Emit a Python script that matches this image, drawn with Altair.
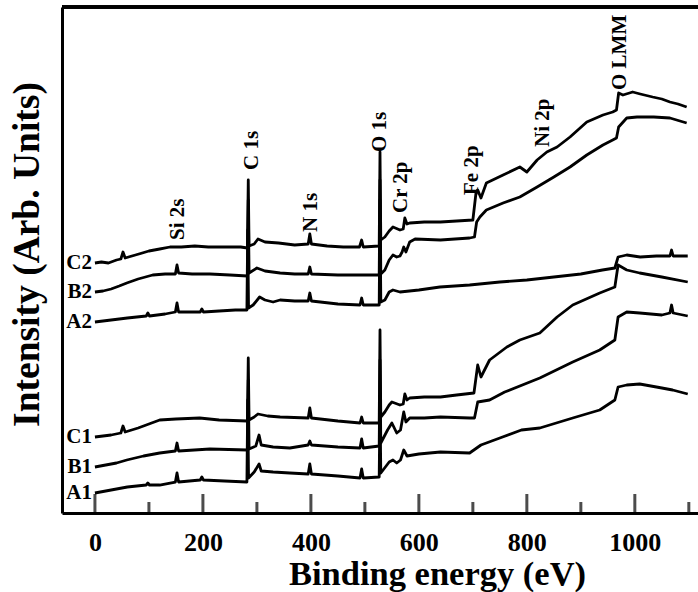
import altair as alt
import pandas as pd

# XPS survey spectra of six samples, stacked with vertical offsets (arbitrary units)
A1_energy = [0, 30, 60, 95, 98, 101, 120, 149, 152, 155, 195, 198, 201, 240, 281.5, 283, 284.5, 295, 304, 308,
             330, 361, 395, 398, 401, 450, 491, 494, 497, 526.5, 528, 529.5, 545, 552, 559, 566, 572, 578, 600, 640,
             694, 715, 750, 790, 824, 885, 935, 963, 969, 985, 1009, 1040, 1070, 1098]
A1_counts = [20, 23, 26, 28, 30, 28, 28, 31, 40, 31, 33, 36, 33, 32, 31, 113, 35, 41, 49, 42,
             41, 40, 39, 49, 39, 37, 35, 44, 35, 36, 113, 40, 51, 53, 50, 53, 63, 57, 59, 61,
             60, 68, 75, 83, 85, 95, 103, 113, 126, 128, 129, 126, 123, 119]

B1_energy = [0, 20, 40, 59, 90, 120, 149, 152, 155, 213, 282.5, 284, 285.5, 298, 304, 308, 330, 361, 395, 398,
             401, 450, 491, 494, 497, 526.5, 528, 529.5, 542, 550, 559, 566, 572, 576, 583, 610, 640, 694, 703, 709,
             731, 759, 824, 885, 935, 963, 969, 985, 1009, 1050, 1065, 1068, 1071, 1098]
B1_counts = [46, 48, 50, 53, 57, 60, 62, 70, 62, 64, 63, 133, 64, 67, 78, 68, 66, 65, 68, 72,
             68, 66, 65, 74, 65, 67, 153, 70, 83, 90, 80, 83, 101, 91, 95, 95, 96, 95, 95, 111,
             113, 121, 135, 151, 163, 173, 196, 201, 200, 198, 200, 208, 200, 197]

C1_energy = [0, 15, 30, 48, 52, 56, 80, 100, 120, 150, 194, 230, 282.5, 284, 285.5, 295, 302, 320, 343, 395,
             398, 401, 450, 491, 494, 497, 526.5, 528, 529.5, 537, 545, 550, 565, 571, 574, 578, 583, 610, 640, 670,
             702, 709, 715, 731, 763, 787, 824, 856, 885, 935, 963, 969, 985, 1009, 1050, 1098]
C1_counts = [76, 77, 78, 80, 87, 81, 85, 89, 93, 94, 95, 93, 92, 155, 93, 96, 99, 97, 96, 95,
             105, 95, 92, 90, 96, 90, 90, 183, 96, 101, 108, 111, 108, 109, 119, 113, 115, 116, 116, 118,
             120, 148, 136, 153, 166, 173, 180, 196, 208, 220, 226, 248, 243, 240, 236, 231]

A2_energy = [0, 30, 60, 95, 98, 101, 130, 149, 152, 155, 190, 195, 198, 201, 230, 260, 281.5, 283, 284.5, 293,
             305, 315, 330, 343, 370, 395, 398, 401, 450, 491, 494, 497, 526.5, 528, 529.5, 537, 545, 552, 565, 600,
             639, 694, 750, 800, 850, 900, 940, 963, 969, 985, 1010, 1040, 1065, 1068, 1071, 1098]
A2_counts = [191, 193, 195, 197, 200, 197, 199, 201, 210, 201, 201, 201, 204, 201, 202, 203, 203, 283, 205, 208,
             216, 213, 211, 213, 212, 212, 220, 212, 209, 208, 215, 208, 208, 313, 211, 213, 221, 223, 221, 223,
             226, 228, 231, 233, 236, 239, 243, 245, 256, 258, 256, 257, 257, 263, 257, 257]

B2_energy = [0, 15, 30, 45, 59, 80, 107, 130, 149, 152, 155, 180, 213, 250, 282.5, 284, 285.5, 300, 315, 343,
             370, 395, 398, 401, 450, 491, 526.5, 528, 529.5, 537, 545, 552, 559, 565, 569, 572, 576, 583, 593, 640,
             694, 703, 707, 713, 725, 756, 787, 819, 850, 880, 911, 941, 959, 966, 970, 985, 1004, 1035, 1065, 1096]
B2_counts = [221, 222, 224, 227, 230, 234, 238, 239, 239, 248, 240, 239, 239, 238, 237, 313, 240, 245, 242, 240,
             239, 239, 246, 239, 238, 238, 238, 333, 239, 243, 253, 258, 256, 257, 261, 266, 261, 271, 274, 273,
             275, 276, 291, 296, 303, 310, 316, 326, 336, 346, 358, 368, 373, 375, 386, 395, 396, 396, 395, 390]

C2_energy = [0, 12, 25, 40, 48, 52, 56, 75, 100, 120, 139, 160, 185, 210, 240, 270, 282.5, 284, 285.5, 295,
             302, 315, 340, 370, 395, 398, 401, 430, 460, 490, 494, 497, 526.5, 528, 529.5, 537, 545, 552, 565, 571,
             574, 578, 583, 610, 640, 670, 700, 706, 709, 715, 725, 756, 787, 800, 819, 837, 856, 880, 911, 941,
             959, 966, 970, 978, 996, 1010, 1033, 1050, 1065, 1080, 1096]
C2_counts = [250, 251, 250, 253, 254, 261, 255, 258, 262, 264, 266, 266, 267, 266, 266, 266, 265, 333, 267, 269,
             274, 271, 270, 268, 269, 279, 269, 267, 266, 266, 273, 266, 267, 361, 273, 276, 282, 286, 283, 284,
             295, 289, 290, 291, 291, 292, 293, 321, 323, 315, 330, 338, 346, 341, 353, 361, 366, 376, 391, 398,
             401, 403, 420, 418, 421, 419, 416, 414, 411, 409, 406]

sample_names = ["A1", "B1", "C1", "A2", "B2", "C2"]

peak_labels = ["Si 2s", "C 1s", "N 1s", "O 1s", "Cr 2p", "Fe 2p", "Ni 2p", "O LMM"]
peak_label_energy = [153, 290, 401, 528, 567, 698, 829, 972]
peak_label_level = [273, 343, 281, 361, 300, 318, 366, 423]

major_ticks = [0, 200, 400, 600, 800, 1000]
minor_ticks = [100, 300, 500, 700, 900, 1100]

FONT = "Liberation Serif"
W, H = 636, 506

series = {
    "A1": (A1_energy, A1_counts), "B1": (B1_energy, B1_counts), "C1": (C1_energy, C1_counts),
    "A2": (A2_energy, A2_counts), "B2": (B2_energy, B2_counts), "C2": (C2_energy, C2_counts),
}
rows = []
for name in sample_names:
    e, c = series[name]
    rows += [{"sample": name, "energy": x, "intensity": y} for x, y in zip(e, c)]
spectra = pd.DataFrame(rows)

starts = pd.DataFrame({
    "sample": sample_names,
    "energy": [series[n][0][0] for n in sample_names],
    "intensity": [series[n][1][0] for n in sample_names],
})
peaks = pd.DataFrame({"label": peak_labels, "energy": peak_label_energy, "intensity": peak_label_level})
majors = pd.DataFrame({"energy": major_ticks})
minors = pd.DataFrame({"energy": minor_ticks})

xs = alt.Scale(domain=[-61, 1117], nice=False, zero=False)
ys = alt.Scale(domain=[0, 506], nice=False, zero=False)

x_axis = alt.Axis(
    values=major_ticks, format="d", ticks=False, grid=False,
    domainColor="black", domainWidth=3,
    labelFont=FONT, labelFontSize=26, labelFontWeight="bold", labelColor="black",
    labelPadding=16, labelFlush=False, labelOverlap=False,
    title="Binding energy (eV)", titleFont=FONT, titleFontSize=34.5, titleFontWeight="bold",
    titleColor="black", titleX=375, titleY=71, titleAlign="center", titleBaseline="alphabetic")
y_axis = alt.Axis(
    ticks=False, labels=False, grid=False, domainColor="black", domainWidth=3,
    title="Intensity (Arb. Units)", titleFont=FONT, titleFontSize=37.5, titleFontWeight="bold",
    titleColor="black", titleAngle=270, titleX=-35, titleY=247, titleAlign="center",
    titleBaseline="middle")

X = alt.X("energy:Q", scale=xs, axis=x_axis)
Y = alt.Y("intensity:Q", scale=ys, axis=y_axis)

lines = alt.Chart(spectra).mark_line(color="black", strokeWidth=2.8, strokeJoin="round").encode(
    x=X, y=Y, detail="sample:N")

# inward-pointing ticks: long at the labelled values, short in between
major_marks = alt.Chart(majors).mark_tick(color="black", thickness=3, size=19, orient="vertical").encode(
    x=X, y=alt.value(H - 9.5))
minor_marks = alt.Chart(minors).mark_tick(color="black", thickness=3, size=11, orient="vertical").encode(
    x=X, y=alt.value(H - 5.5))

top_border = alt.Chart(majors).mark_rule(color="black", strokeWidth=3).encode(
    x=alt.value(0), x2=alt.value(W), y=alt.value(0))

sample_text = alt.Chart(starts).mark_text(
    align="right", baseline="middle", dx=-3, font=FONT, fontSize=21, fontWeight="bold", color="black"
).encode(x=X, y=Y, text="sample:N")

peak_text = alt.Chart(peaks).mark_text(
    align="left", baseline="middle", angle=270, font=FONT, fontSize=21, fontWeight="bold", color="black"
).encode(x=X, y=Y, text="label:N")

chart = alt.layer(
    lines, major_marks, minor_marks, top_border, sample_text, peak_text
).properties(
    width=W, height=H,
    autosize=alt.AutoSizeParams(type="none"),
    padding={"left": 62, "top": 7, "right": 0, "bottom": 79},
).configure_view(stroke=None)

chart.save("out.html", embed_options={"renderer": "svg", "actions": False})
